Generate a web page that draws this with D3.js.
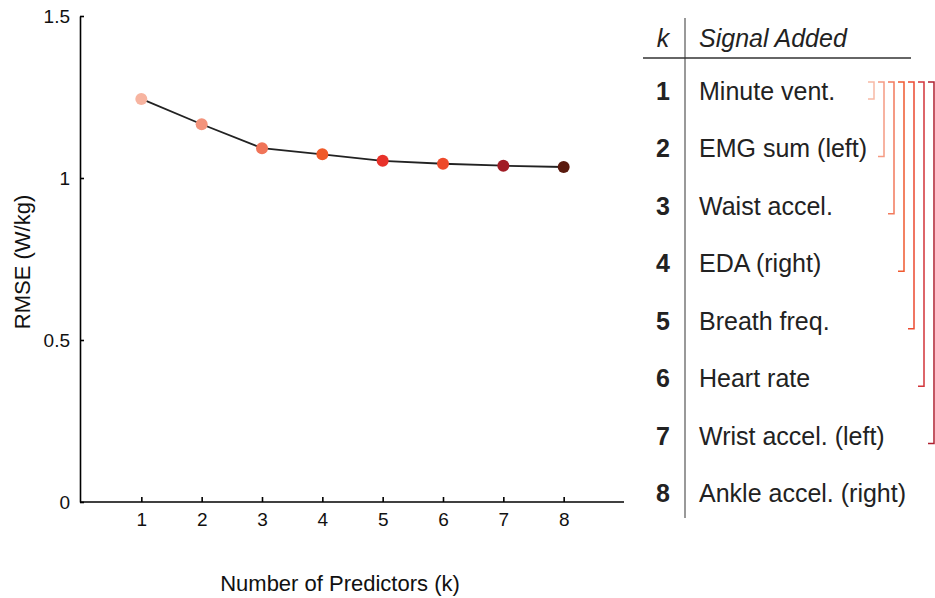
<!DOCTYPE html>
<html>
<head>
<meta charset="utf-8">
<script src="https://cdn.jsdelivr.net/npm/d3@7"></script>
<style>
  html, body { margin: 0; padding: 0; background: #fff; }
  svg { display: block; font-family: "Liberation Sans", Arial, Helvetica, sans-serif; }
</style>
</head>
<body>
<svg id="chart" width="935" height="598"></svg>
<script>
// Predictor count vs. error
const predictorCounts = [1, 2, 3, 4, 5, 6, 7, 8];
const rmseValues = [1.244, 1.166, 1.092, 1.073, 1.053, 1.044, 1.038, 1.034];
const pointColors = ["#f7b4a0", "#f3937b", "#f07458", "#f05a28", "#e8322a", "#ee4a2a", "#a11c25", "#5a1a0e"];
const yTickValues = [0, 0.5, 1, 1.5];
const yTickLabels = ["0", "0.5", "1", "1.5"];

// Signals added at each step, in order
const signalNames = [
  "Minute vent.", "EMG sum (left)", "Waist accel.", "EDA (right)",
  "Breath freq.", "Heart rate", "Wrist accel. (left)", "Ankle accel. (right)"
];
const bracketSteps = [1, 2, 3, 4, 5, 6, 7];
const bracketColors = ["#f8b9a5", "#f59a82", "#f27a5c", "#f05a30", "#ec4a30", "#d2353a", "#b02030"];

const svg = d3.select("#chart");

const x = d3.scaleLinear().domain([0, 9]).range([81, 624]);
const y = d3.scaleLinear().domain([0, 1.5]).range([502, 16]);

// Axes with inward ticks
const yAxis = d3.axisLeft(y)
  .tickValues(yTickValues)
  .tickFormat((d, i) => yTickLabels[i])
  .tickSizeInner(-4).tickSizeOuter(0).tickPadding(10);
const xAxis = d3.axisBottom(x)
  .tickValues(predictorCounts)
  .tickSizeInner(-5).tickSizeOuter(0).tickPadding(11);

const gy = svg.append("g").attr("transform", "translate(80,0)").call(yAxis);
const gx = svg.append("g").attr("transform", "translate(0,502)").call(xAxis);
[gx, gy].forEach(g => {
  g.selectAll("path, line").attr("stroke", "#000").attr("stroke-width", 1.6);
  g.selectAll("text").attr("font-size", 19).attr("fill", "#111")
    .attr("font-family", "'Liberation Sans', Arial, Helvetica, sans-serif");
});
gx.select(".domain").attr("d", `M80,0H${x(9)}`);

// Axis titles
svg.append("text")
  .attr("x", 340).attr("y", 591)
  .attr("text-anchor", "middle").attr("font-size", 22).attr("fill", "#111")
  .text("Number of Predictors (k)");
svg.append("text")
  .attr("transform", "translate(30,262) rotate(-90)")
  .attr("text-anchor", "middle").attr("font-size", 22).attr("fill", "#111")
  .text("RMSE (W/kg)");

// Error curve
const pts = predictorCounts.map((k, i) => ({ k, v: rmseValues[i], c: pointColors[i] }));
svg.append("path")
  .datum(pts)
  .attr("fill", "none").attr("stroke", "#222").attr("stroke-width", 1.8)
  .attr("d", d3.line().x(d => x(d.k)).y(d => y(d.v)));
svg.selectAll("circle.pt").data(pts).join("circle")
  .attr("class", "pt")
  .attr("cx", d => x(d.k)).attr("cy", d => y(d.v)).attr("r", 6)
  .attr("fill", d => d.c);

// Table of added signals
const row = d3.scalePoint().domain(predictorCounts).range([91, 493]);
const table = svg.append("g").attr("font-size", 25).attr("fill", "#222");

table.append("line").attr("x1", 685).attr("x2", 685).attr("y1", 18).attr("y2", 518)
  .attr("stroke", "#555").attr("stroke-width", 1.2);
table.append("line").attr("x1", 643).attr("x2", 911).attr("y1", 58).attr("y2", 58)
  .attr("stroke", "#333").attr("stroke-width", 1.3);

table.append("text").attr("x", 663).attr("y", 47).attr("text-anchor", "middle")
  .attr("font-style", "italic").text("k");
table.append("text").attr("x", 699).attr("y", 47)
  .attr("font-style", "italic").text("Signal Added");

table.selectAll("text.num").data(predictorCounts).join("text")
  .attr("class", "num")
  .attr("x", 663).attr("y", d => row(d) + 9)
  .attr("text-anchor", "middle").attr("font-weight", "bold")
  .text(d => d);
table.selectAll("text.sig").data(predictorCounts).join("text")
  .attr("class", "sig")
  .attr("x", 699).attr("y", d => row(d) + 9)
  .text((d, i) => signalNames[i]);

// Brackets grouping the first k signals
const bx = d3.scaleLinear().domain([1, 7]).range([874, 934]);
svg.append("g").selectAll("path").data(bracketSteps).join("path")
  .attr("fill", "none").attr("stroke-width", 1.5)
  .attr("stroke", (d, i) => bracketColors[i])
  .attr("d", d => {
    const xr = bx(d), top = row(1) - 9, bot = row(d) + 8;
    return `M${xr - 6},${top}H${xr}V${bot}H${xr - 6}`;
  });
</script>
</body>
</html>
